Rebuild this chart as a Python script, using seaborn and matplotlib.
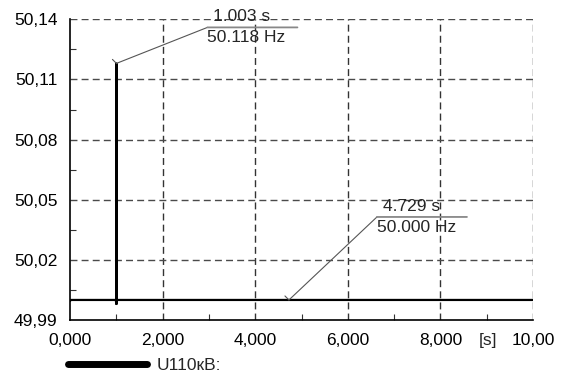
import numpy as np
import pandas as pd
import seaborn as sns
import matplotlib.pyplot as plt
import matplotlib.transforms as mtrans
from matplotlib.ticker import MultipleLocator, FixedLocator

# frequency trace
time_s = [0.0, 0.02, 0.99, 1.0, 1.003, 1.006, 1.009, 1.012, 10.0]
freq_hz = [49.9995, 50.0, 50.0, 49.998, 50.118, 49.998, 50.036, 50.0, 50.0]
series_name = "U110кВ:"

# cursor readouts
cursor_t = [1.003, 4.729]
cursor_f = [50.118, 50.000]
cursor_dxy = [(91, 36), (88, 83)]  # leader offsets in pixels

x_ticks = [0, 2, 4, 6, 8, 10]
x_labels = ["0,000", "2,000", "4,000", "6,000", "8,000", "10,00"]
y_ticks = [49.99, 50.02, 50.05, 50.08, 50.11, 50.14]
y_labels = ["49,99", "50,02", "50,05", "50,08", "50,11", "50,14"]

sns.set_style("white")
plt.rcParams['font.family'] = ['Liberation Sans', 'DejaVu Sans']
FS = 12.5
XPAD = 9.5

df = pd.DataFrame({"t": time_s, "f": freq_hz})

fig = plt.figure(figsize=(5.64, 3.74), dpi=100)
ax = fig.add_axes([70 / 564, 1 - 320 / 374, 463 / 564, (320 - 19.3) / 374])

sns.lineplot(data=df, x="t", y="f", ax=ax, color="black", lw=1.6,
             sort=False, estimator=None, legend=False)

ax.set_xlim(0, 10)
ax.set_ylim(49.99, 50.14)
ax.set_xlabel("")
ax.set_ylabel("")

ax.xaxis.set_major_locator(FixedLocator(x_ticks))
ax.set_xticklabels(x_labels, fontsize=FS)
ax.yaxis.set_major_locator(FixedLocator(y_ticks))
ax.set_yticklabels(y_labels, fontsize=FS)
ax.xaxis.set_minor_locator(MultipleLocator(1))
ax.yaxis.set_minor_locator(FixedLocator([50.005, 50.035, 50.065, 50.095, 50.125]))
ax.tick_params(which="major", length=0, colors="black")
ax.tick_params(axis="x", which="major", pad=XPAD)
ax.tick_params(axis="y", which="major", pad=9)
ax.tick_params(which="minor", direction="in", length=4, width=0.8, color="#333333",
               bottom=True, left=True)

for t in x_ticks[1:]:
    ax.axvline(t, color="#333333", lw=1.0, ls=(0, (5, 3)), zorder=0)
for f in y_ticks[1:]:
    ax.axhline(f, color="#4a4a4a", lw=1.0, ls=(0, (5, 3)), zorder=0)

for side in ["top", "right"]:
    ax.spines[side].set_visible(False)
for side in ["left", "bottom"]:
    ax.spines[side].set_color("black")
    ax.spines[side].set_linewidth(1.2)

# unit label sits in the tick label row
ax.annotate("[s]", xy=(9.03, 0), xycoords=ax.get_xaxis_transform(),
            xytext=(0, -XPAD), textcoords="offset points",
            ha="center", va="top", fontsize=FS)

# cursor annotations
px = 72 / fig.dpi
seg = dict(arrowstyle="-", color="#555555", lw=0.8, shrinkA=0, shrinkB=0)
for t, f, (dx, dy) in zip(cursor_t, cursor_f, cursor_dxy):
    # leader line and little tick at the cursor point
    ax.annotate("", xy=(t, f), xytext=(dx * px, dy * px), textcoords="offset points",
                arrowprops=seg)
    ax.annotate("", xy=(t, f), xytext=(-4 * px, 4 * px), textcoords="offset points",
                arrowprops=seg)
    # underline
    elbow = mtrans.offset_copy(ax.transData, fig=fig, x=dx, y=dy, units="dots")
    ax.annotate("", xy=(t, f), xycoords=elbow, xytext=(90 * px, 0),
                textcoords="offset points",
                arrowprops=dict(arrowstyle="-", color="#888888", lw=1.3,
                                shrinkA=0, shrinkB=0))
    ax.annotate(f"{t:.3f} s", xy=(t, f), xytext=((dx + 6) * px, (dy + 3) * px),
                textcoords="offset points", ha="left", va="bottom", fontsize=FS)
    ax.annotate(f"{f:.3f} Hz", xy=(t, f), xytext=(dx * px, (dy - 3) * px),
                textcoords="offset points", ha="left", va="top", fontsize=FS)

fig.legend(handles=[plt.Line2D([], [], color="black", lw=5, solid_capstyle="round")],
           labels=[series_name], loc="center left",
           bbox_to_anchor=(52 / 564, 1 - 365 / 374),
           frameon=False, fontsize=FS, handlelength=4.6, handletextpad=0.55)

fig.savefig("out.png", dpi=100)
